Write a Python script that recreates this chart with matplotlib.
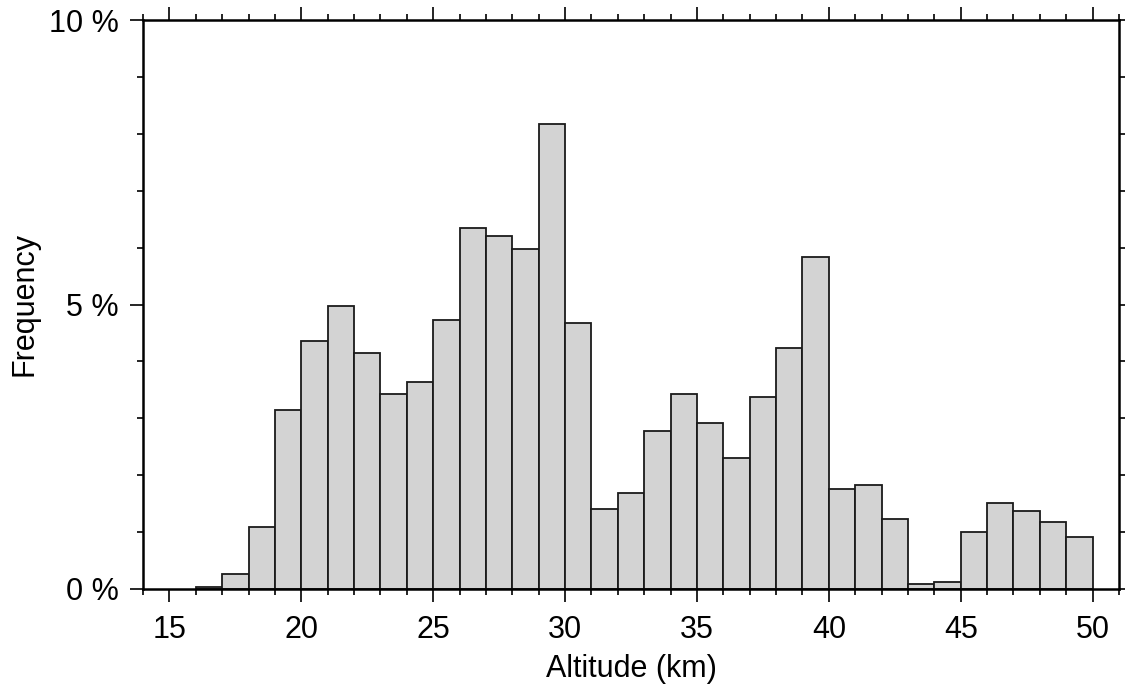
import numpy as np
import matplotlib
matplotlib.use("Agg")
from matplotlib import pyplot as plt
from matplotlib.ticker import MultipleLocator, FuncFormatter

plt.rcParams['font.family'] = ['Liberation Sans', 'DejaVu Sans']

# istogramma: classi di 1 km, frequenza in %
bordi = np.arange(16, 51, 1)
frequenze = [0.03, 0.26, 1.09, 3.15, 4.35, 4.98, 4.15, 3.43, 3.64, 4.72,
             6.35, 6.20, 5.98, 8.18, 4.67, 1.41, 1.69, 2.77, 3.43, 2.92,
             2.31, 3.38, 4.23, 5.83, 1.75, 1.83, 1.23, 0.08, 0.12, 1.00,
             1.52, 1.37, 1.18, 0.91]

fig = plt.figure(figsize=(11.25, 6.97), dpi=100)
ax = fig.add_axes([143/1125, 1 - 589/697, (1119 - 143)/1125, (589 - 20)/697])

ax.bar(bordi[:-1], frequenze, width=1.0, align='edge', color='#d3d3d3',
       edgecolor='#1a1a1a', linewidth=1.3)

ax.set_xlim(14, 51)
ax.set_ylim(0, 10)

ax.xaxis.set_major_locator(MultipleLocator(5))
ax.xaxis.set_minor_locator(MultipleLocator(1))
ax.yaxis.set_major_locator(MultipleLocator(5))
ax.yaxis.set_minor_locator(MultipleLocator(1))
ax.yaxis.set_major_formatter(FuncFormatter(lambda v, p: "%d %%" % v))

for s in ax.spines.values():
    s.set_linewidth(1.8)

ax.tick_params(which='both', direction='out', top=True, right=True,
               labeltop=False, labelright=False, width=1.2, labelsize=22)
ax.tick_params(which='major', length=9.5)
ax.tick_params(which='minor', length=4.5)
ax.tick_params(axis='x', which='major', pad=9)
ax.tick_params(axis='y', which='major', pad=8)

ax.set_xlabel('Altitude (km)', fontsize=22, labelpad=7)
ax.set_ylabel('Frequency', fontsize=22, labelpad=7)

plt.savefig('out.png', dpi=100)
